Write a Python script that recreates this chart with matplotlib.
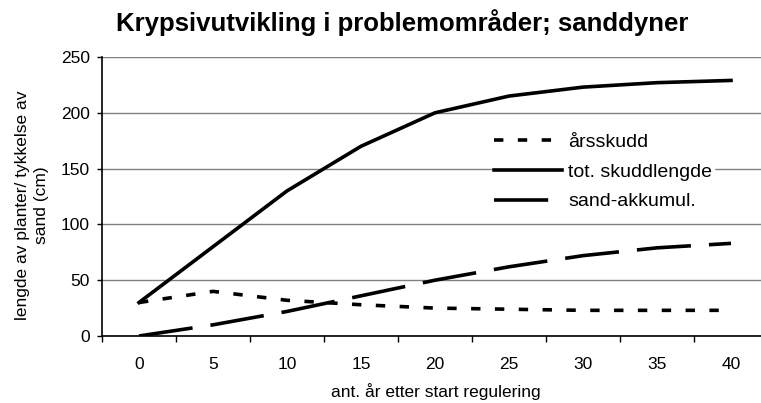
#coding=utf8
'''
Krypsiv chart: plant length / sand thickness vs years after regulation.
'''
import numpy as np
import matplotlib
matplotlib.use('Agg')
import matplotlib.pyplot as plt
from matplotlib import rc

# data
years = ['0', '5', '10', '15', '20', '25', '30', '35', '40']
aarsskudd = [30, 40, 32, 28, 25, 24, 23, 23, 23]
tot_skudd = [30, 80, 130, 170, 200, 215, 223, 227, 229]
sand_akk = [0, 10, 22, 36, 50, 62, 72, 79, 83]

rc('font', family=['Liberation Sans', 'DejaVu Sans'])

fig = plt.figure(figsize=(7.61, 4.03), dpi=100)
ax = fig.add_axes([102/761., 1-336/403., 666/761., 279/403.])

x = np.arange(len(years))
lw = 2.6
ax.plot(x, aarsskudd, color='black', lw=lw, dashes=(2.6, 4.0), label=u'årsskudd')
ax.plot(x, tot_skudd, color='black', lw=lw, label='tot. skuddlengde')
ax.plot(x, sand_akk, color='black', lw=lw, dashes=(15, 5), label='sand-akkumul.')

ax.set_xlim(-0.5, len(years) - 0.5)
ax.set_ylim(0, 250)
ax.set_yticks(range(0, 251, 50))
ax.set_xticks(x)
ax.set_xticklabels(years)
ax.set_xticks(np.arange(-0.5, len(years), 1.0), minor=True)
ax.tick_params(axis='x', which='major', length=0, pad=15, labelsize=12.5)
ax.tick_params(axis='x', which='minor', length=4, width=1, direction='out')
ax.tick_params(axis='y', length=3.6, width=1, direction='out', pad=5, labelsize=12.5)

ax.grid(axis='y', color='#808080', lw=1)
ax.set_axisbelow(True)
ax.spines['top'].set_visible(False)
ax.spines['right'].set_visible(False)
ax.spines['left'].set_linewidth(1.2)
ax.spines['bottom'].set_linewidth(1.2)

leg = ax.legend(loc='center', bbox_to_anchor=(603/761., 1-172/403.),
                bbox_transform=fig.transFigure, frameon=True, fancybox=False,
                edgecolor='white', framealpha=1, fontsize=14,
                handlelength=3.5, handletextpad=0.3, labelspacing=0.62,
                borderpad=0.1, borderaxespad=0)

fig.text(402/761., 1-23/403., u'Krypsivutvikling i problemområder; sanddyner',
         ha='center', va='center', fontsize=18.5, fontweight='bold')
fig.text(32/761., 1-205/403., 'lengde av planter/ tykkelse av\nsand (cm)',
         ha='center', va='center', rotation=90, fontsize=12.5, linespacing=1.3)
fig.text(436/761., 1-392/403., u'ant. år etter start regulering',
         ha='center', va='center', fontsize=12.5)

fig.savefig('out.png', dpi=100)
